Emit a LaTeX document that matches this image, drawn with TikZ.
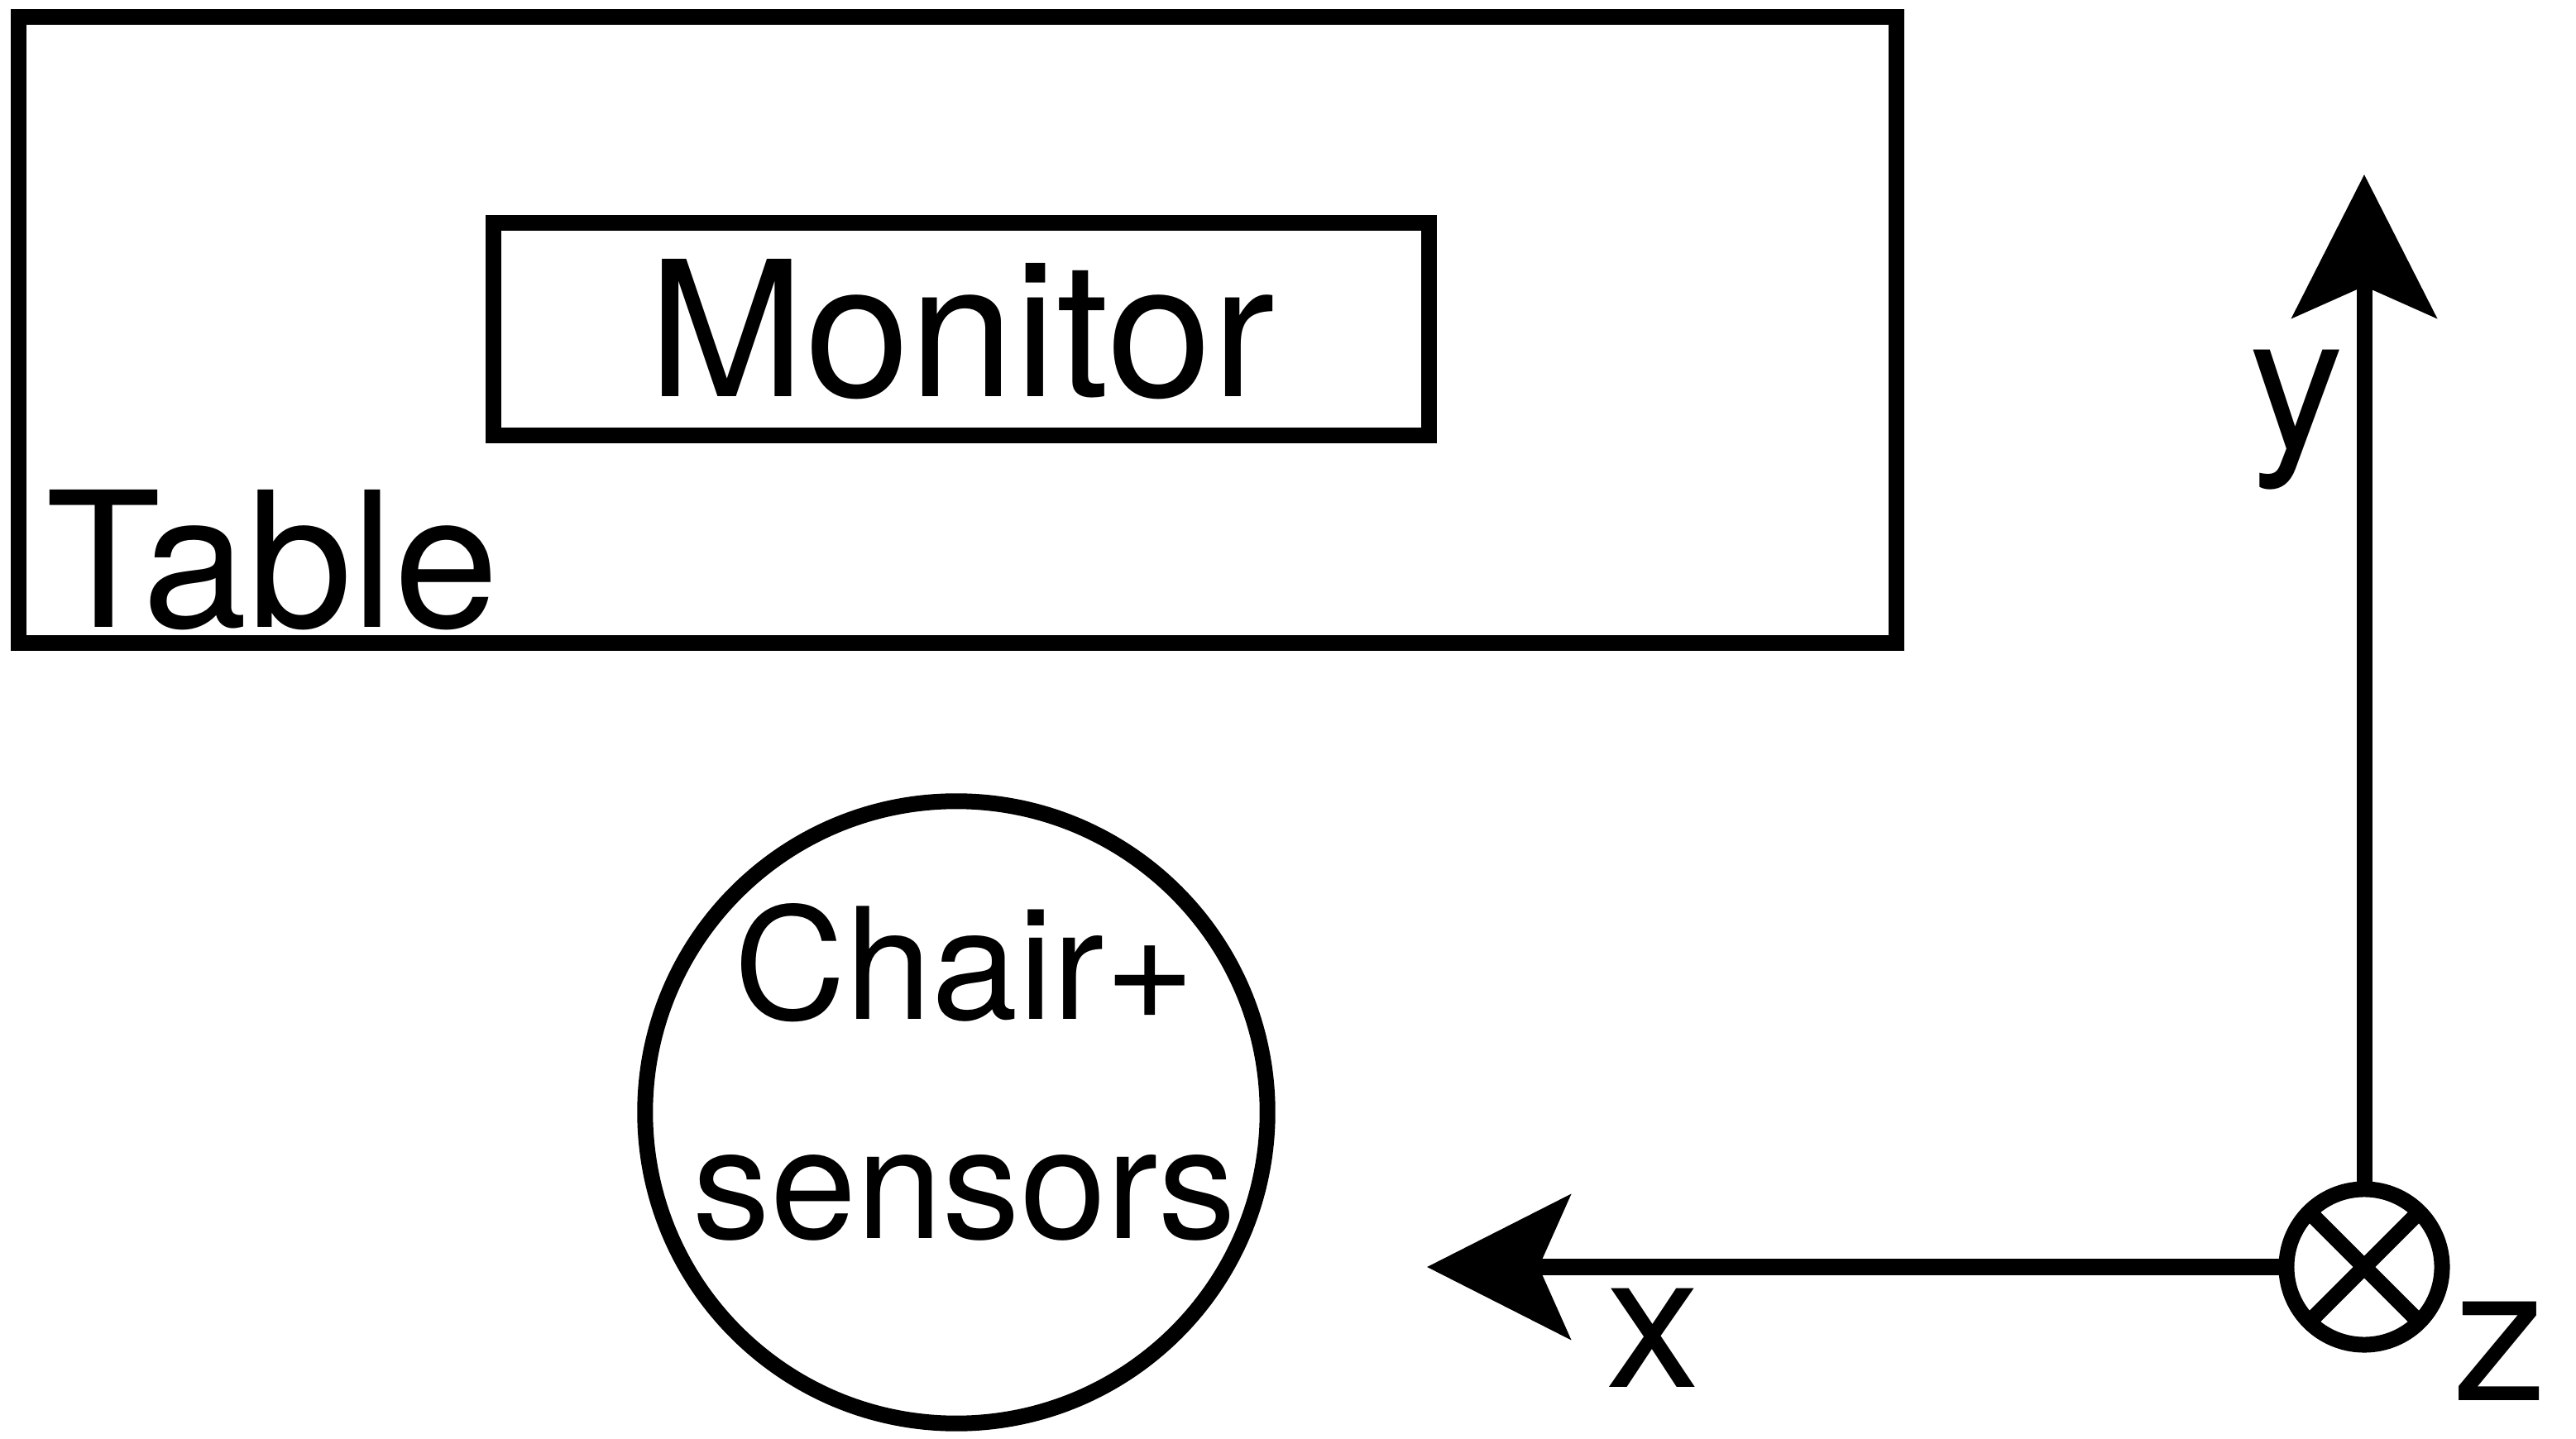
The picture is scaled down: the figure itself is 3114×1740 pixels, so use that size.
\documentclass[tikz,border=0pt]{standalone}
\usepackage{fontspec}
\setmainfont{TeX Gyre Heros}
\usetikzlibrary{arrows.meta}
\begin{document}
\begin{tikzpicture}[x=0.01cm,y=-0.01cm,
  thick line/.style={line width=0.19cm},
  boxnode/.style={draw,thick line,rectangle,inner sep=0pt,outer sep=0pt},
  txt/.style={font=\fontsize{64.8}{75.4}\selectfont,inner sep=0pt},
  smalltxt/.style={font=\fontsize{53.3}{75.4}\selectfont,inner sep=0pt},
  axis/.style={thick line,-{Stealth[length=1.73cm,width=1.74cm,inset=0.38cm]}}]
\useasboundingbox (0,0) rectangle (3114,1740);
% table
\node[boxnode,minimum width=22.68cm,minimum height=7.57cm] (table) at (1157.5,399) {};
\node[txt,anchor=base west] (tablelbl) at (55,759) {Table};
% monitor
\node[boxnode,txt,minimum width=11.30cm,minimum height=2.56cm] (monitor) at (1162,398) {Monitor};
% chair
\node[draw,thick line,circle,minimum size=7.52cm,inner sep=0pt,outer sep=0pt] (chair) at (1156,1345) {};
\node[smalltxt,align=center] (chairlbl) at (1166,1296) {Chair+\\sensors};
% axes
\node[draw,thick line,circle,minimum size=1.88cm,inner sep=0pt,outer sep=0pt] (zc) at (2858,1532) {};
\draw[thick line] (zc.north west) -- (zc.south east);
\draw[thick line] (zc.north east) -- (zc.south west);
\coordinate (ytip) at (2858,211);
\coordinate (xtip) at (1725,1532);
\draw[axis] (zc.north) -- (ytip);
\draw[axis] (zc.west) -- (xtip);
\node[txt,anchor=base] (ylbl) at (2776,543) {y};
\node[txt,anchor=base] (xlbl) at (1998,1677) {x};
\node[txt,anchor=base] (zlbl) at (3022,1693) {z};
\end{tikzpicture}
\end{document}
